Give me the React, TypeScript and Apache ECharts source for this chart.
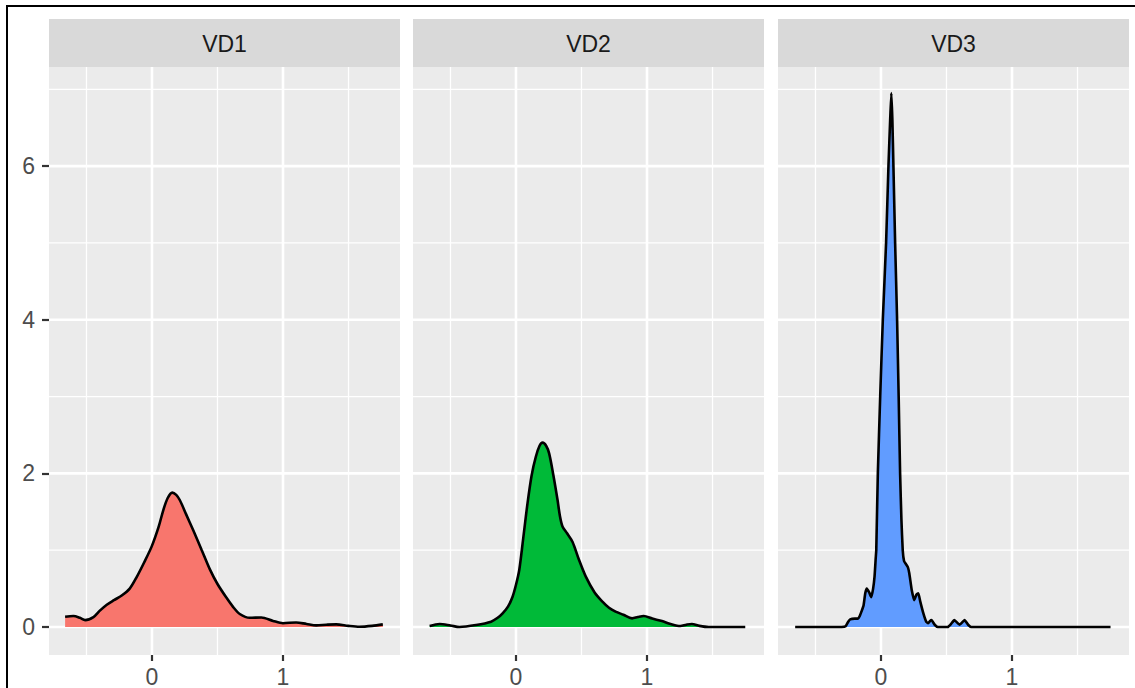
import React, { useEffect, useRef } from "react";
import * as echarts from "echarts";

const panelNames = ["VD1", "VD2", "VD3"];
const fillColors = ["#F8766D", "#00BA38", "#619CFF"];

const vd1X = [-0.663, -0.6, -0.55, -0.51, -0.447, -0.4, -0.345, -0.29, -0.231, -0.17, -0.117, -0.06, -0.002, 0.05, 0.086, 0.12, 0.155, 0.185, 0.213, 0.26, 0.315, 0.38, 0.442, 0.5, 0.569, 0.62, 0.67, 0.746, 0.835, 0.924, 1.0, 1.1, 1.18, 1.254, 1.33, 1.406, 1.5, 1.584, 1.68, 1.762];
const vd1Y = [0.134, 0.143, 0.12, 0.09, 0.13, 0.21, 0.29, 0.35, 0.41, 0.5, 0.65, 0.84, 1.05, 1.3, 1.52, 1.68, 1.75, 1.72, 1.65, 1.47, 1.26, 1.0, 0.75, 0.56, 0.38, 0.26, 0.17, 0.12, 0.125, 0.08, 0.05, 0.06, 0.04, 0.022, 0.03, 0.035, 0.015, 0.004, 0.015, 0.035];

const vd2X = [-0.659, -0.583, -0.5, -0.431, -0.304, -0.19, -0.14, -0.102, -0.06, -0.026, 0.0, 0.025, 0.055, 0.088, 0.12, 0.152, 0.18, 0.203, 0.23, 0.253, 0.285, 0.317, 0.335, 0.355, 0.39, 0.431, 0.48, 0.533, 0.6, 0.66, 0.71, 0.76, 0.82, 0.886, 0.93, 0.975, 1.04, 1.114, 1.18, 1.254, 1.3, 1.342, 1.4, 1.47, 1.6, 1.75];
const vd2Y = [0.013, 0.04, 0.02, 0.0, 0.026, 0.07, 0.12, 0.178, 0.27, 0.395, 0.55, 0.743, 1.15, 1.61, 1.98, 2.22, 2.36, 2.4, 2.36, 2.26, 1.98, 1.656, 1.45, 1.31, 1.22, 1.11, 0.88, 0.656, 0.45, 0.33, 0.25, 0.2, 0.16, 0.113, 0.13, 0.143, 0.11, 0.078, 0.04, 0.013, 0.03, 0.04, 0.015, 0.0, 0.0, 0.0];

const vd3X = [-0.655, -0.3, -0.27, -0.25, -0.235, -0.2, -0.175, -0.163, -0.145, -0.133, -0.12, -0.108, -0.09, -0.074, -0.06, -0.049, -0.04, -0.036, -0.024, -0.006, 0.014, 0.039, 0.057, 0.07, 0.079, 0.087, 0.095, 0.108, 0.123, 0.135, 0.146, 0.156, 0.166, 0.176, 0.19, 0.205, 0.216, 0.235, 0.254, 0.27, 0.285, 0.3, 0.323, 0.345, 0.36, 0.375, 0.385, 0.41, 0.435, 0.51, 0.535, 0.56, 0.6, 0.638, 0.665, 0.69, 1.0, 1.752];
const vd3Y = [0, 0, 0.01, 0.07, 0.1, 0.11, 0.11, 0.14, 0.22, 0.28, 0.44, 0.5, 0.45, 0.39, 0.5, 0.66, 0.9, 1.0, 2.0, 3.0, 4.0, 5.0, 6.0, 6.6, 6.95, 6.6, 6.0, 5.0, 4.0, 3.0, 2.0, 1.4, 1.0, 0.86, 0.82, 0.78, 0.7, 0.48, 0.35, 0.42, 0.44, 0.33, 0.18, 0.07, 0.05, 0.08, 0.09, 0.03, 0, 0, 0.04, 0.09, 0.03, 0.09, 0.03, 0, 0, 0];

const xTickValues = [0, 1];
const xMinorBreaks = [-0.5, 0.5, 1.5];
const yTickValues = [0, 2, 4, 6];
const yMinorBreaks = [1, 3, 5, 7];
const xRange = [-0.786, 1.893];
const yRange = [-0.364, 7.29];

const panelXs = [vd1X, vd2X, vd3X];
const panelYs = [vd1Y, vd2Y, vd3Y];

const FONT = "'Liberation Sans', Arial, sans-serif";

export default function App() {
  const ref = useRef<HTMLDivElement>(null);
  useEffect(() => {
    if (!ref.current) return;
    const chart = echarts.init(ref.current, undefined, { renderer: "svg" });
    const lefts = [49, 413, 778];
    const W = 351;
    const TOP = 67;
    const H = 588;

    const grids = lefts.map((l) => ({
      left: l,
      top: TOP,
      width: W,
      height: H,
      show: true,
      backgroundColor: "#EBEBEB",
      borderWidth: 0,
      containLabel: false,
      outerBoundsMode: "none",
    }));

    const xAxes = lefts.map((_, i) => ({
      type: "value",
      gridIndex: i,
      min: xRange[0],
      max: xRange[1],
      position: "bottom",
      axisLine: { show: false, onZero: false },
      splitLine: { show: false },
      axisTick: {
        show: true,
        customValues: xTickValues,
        length: 6,
        lineStyle: { color: "#333333", width: 2.2 },
      },
      axisLabel: {
        show: true,
        customValues: xTickValues,
        color: "#4D4D4D",
        fontSize: 23,
        fontFamily: FONT,
        margin: 10,
      },
    }));

    const yAxes = lefts.map((_, i) => ({
      type: "value",
      gridIndex: i,
      min: yRange[0],
      max: yRange[1],
      position: "left",
      axisLine: { show: false, onZero: false },
      splitLine: { show: false },
      axisTick: {
        show: i === 0,
        customValues: yTickValues,
        length: 7,
        lineStyle: { color: "#333333", width: 2.2 },
      },
      axisLabel: {
        show: i === 0,
        customValues: yTickValues,
        color: "#4D4D4D",
        fontSize: 23,
        fontFamily: FONT,
        margin: 14,
      },
    }));

    const gridLineData: number[][] = [];
    xTickValues.forEach((v) => gridLineData.push([0, v, 2.6]));
    xMinorBreaks.forEach((v) => gridLineData.push([0, v, 1.3]));
    yTickValues.forEach((v) => gridLineData.push([1, v, 2.6]));
    yMinorBreaks.forEach((v) => gridLineData.push([1, v, 1.3]));

    const series: any[] = [];
    lefts.forEach((_, i) => {
      series.push({
        type: "custom",
        xAxisIndex: i,
        yAxisIndex: i,
        z: 1,
        silent: true,
        encode: { x: 1, y: 1 },
        data: gridLineData,
        renderItem: (params: any, api: any) => {
          const cs = params.coordSys;
          const orient = api.value(0);
          const v = api.value(1);
          const w = api.value(2);
          if (orient === 0) {
            const p = api.coord([v, 0]);
            return {
              type: "line",
              shape: { x1: p[0], y1: cs.y, x2: p[0], y2: cs.y + cs.height },
              style: { stroke: "#FFFFFF", lineWidth: w },
            };
          }
          const p = api.coord([0, v]);
          return {
            type: "line",
            shape: { x1: cs.x, y1: p[1], x2: cs.x + cs.width, y2: p[1] },
            style: { stroke: "#FFFFFF", lineWidth: w },
          };
        },
      });
      series.push({
        type: "line",
        name: panelNames[i],
        xAxisIndex: i,
        yAxisIndex: i,
        z: 3,
        data: panelXs[i].map((x, k) => [x, panelYs[i][k]]),
        showSymbol: false,
        symbol: "none",
        smooth: i === 2 ? 0.15 : 0.3,
        lineStyle: { color: "#000000", width: 2.6 },
        areaStyle: { color: fillColors[i], opacity: 1 },
        silent: true,
      });
    });

    const graphics: any[] = [
      {
        type: "rect",
        shape: { x: 7, y: 6, width: 1140, height: 700 },
        style: { fill: "none", stroke: "#000000", lineWidth: 2 },
        silent: true,
      },
    ];
    lefts.forEach((l, i) => {
      graphics.push({
        type: "rect",
        shape: { x: l, y: 19, width: W, height: 48 },
        style: { fill: "#D9D9D9" },
        silent: true,
      });
      graphics.push({
        type: "text",
        x: l + W / 2,
        y: 44,
        style: {
          text: panelNames[i],
          fill: "#1A1A1A",
          fontSize: 23,
          fontFamily: FONT,
          textAlign: "center",
          textVerticalAlign: "middle",
        },
        silent: true,
      });
    });

    chart.setOption({
      animation: false,
      backgroundColor: "#FFFFFF",
      grid: grids,
      xAxis: xAxes,
      yAxis: yAxes,
      series,
      graphic: graphics,
    });
    return () => chart.dispose();
  }, []);

  return (
    <div
      ref={ref}
      style={{ position: "fixed", left: 0, top: 0, width: 1135, height: 688 }}
    />
  );
}
